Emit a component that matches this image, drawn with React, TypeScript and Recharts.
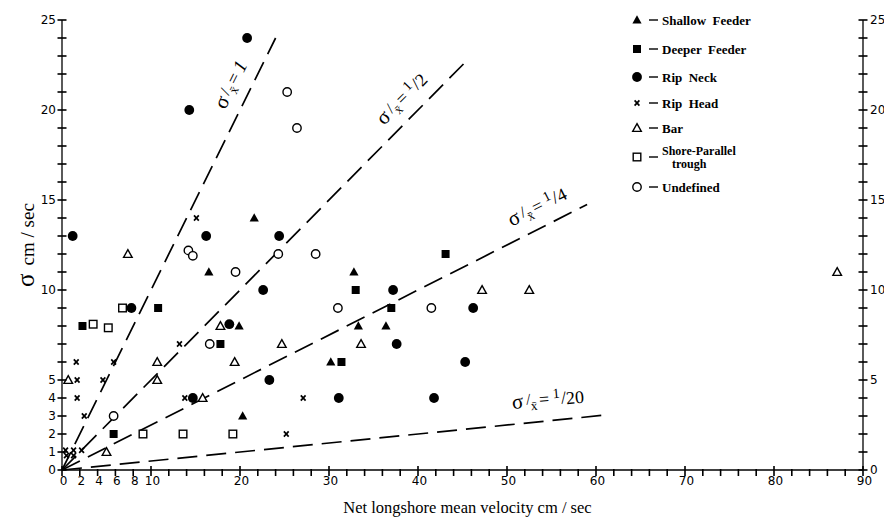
import React from 'react';
import { ScatterChart, Scatter, XAxis, YAxis, ReferenceLine, ReferenceDot, Legend } from 'recharts';

// ---- data (x = net longshore mean velocity, y = sigma), cm/sec ----
const shallowFeeder = [
  { x: 21.6, y: 14 }, { x: 16.5, y: 11 }, { x: 19.9, y: 8 }, { x: 20.3, y: 3 },
  { x: 32.8, y: 11 }, { x: 33.3, y: 8 }, { x: 36.4, y: 8 }, { x: 30.2, y: 6 },
];
const deeperFeeder = [
  { x: 2.3, y: 8 }, { x: 10.8, y: 9 }, { x: 5.8, y: 2 }, { x: 17.8, y: 7 },
  { x: 43.1, y: 12 }, { x: 33.0, y: 10 }, { x: 37.0, y: 9 }, { x: 31.4, y: 6 },
];
const ripNeck = [
  { x: 1.2, y: 13 }, { x: 14.3, y: 20 }, { x: 20.8, y: 24 }, { x: 16.2, y: 13 },
  { x: 24.4, y: 13 }, { x: 7.8, y: 9 }, { x: 22.6, y: 10 }, { x: 18.8, y: 8.1 },
  { x: 14.7, y: 4 }, { x: 23.3, y: 5 }, { x: 37.2, y: 10 }, { x: 37.6, y: 7 },
  { x: 46.2, y: 9 }, { x: 45.3, y: 6 }, { x: 31.1, y: 4 }, { x: 41.8, y: 4 },
];
const ripHead = [
  { x: 15.1, y: 14 }, { x: 1.6, y: 6 }, { x: 5.8, y: 6 }, { x: 1.7, y: 5 },
  { x: 4.6, y: 5 }, { x: 1.7, y: 4 }, { x: 2.5, y: 3 }, { x: 13.2, y: 7 },
  { x: 13.8, y: 4 }, { x: 25.2, y: 2 }, { x: 27.1, y: 4 }, { x: 0.4, y: 1.1 },
  { x: 1.3, y: 1.1 }, { x: 2.2, y: 1.1 }, { x: 0.5, y: 0.8 }, { x: 1.3, y: 0.8 },
];
const bar = [
  { x: 7.4, y: 12 }, { x: 0.7, y: 5 }, { x: 10.7, y: 6 }, { x: 10.7, y: 5 },
  { x: 5.0, y: 1 }, { x: 17.8, y: 8 }, { x: 19.4, y: 6 }, { x: 15.8, y: 4 },
  { x: 24.7, y: 7 }, { x: 33.6, y: 7 }, { x: 47.2, y: 10 }, { x: 52.5, y: 10 },
  { x: 87.1, y: 11 },
];
const shoreTrough = [
  { x: 3.5, y: 8.1 }, { x: 5.2, y: 7.9 }, { x: 6.8, y: 9 }, { x: 9.1, y: 2 },
  { x: 13.6, y: 2 }, { x: 19.2, y: 2 },
];
const undefinedZone = [
  { x: 25.3, y: 21 }, { x: 26.4, y: 19 }, { x: 14.2, y: 12.2 }, { x: 14.7, y: 11.9 },
  { x: 24.3, y: 12 }, { x: 19.5, y: 11 }, { x: 5.8, y: 3 }, { x: 16.6, y: 7 },
  { x: 28.5, y: 12 }, { x: 31.0, y: 9 }, { x: 41.5, y: 9 },
];

// ---- axes ----
const xTicks = [0, 2, 4, 6, 8, 10, 12, 14, 16, 18, 20, 22, 24, 26, 28, 30, 32, 34, 36, 38, 40, 42, 44, 46, 48, 50,
  52, 54, 56, 58, 60, 62, 64, 66, 68, 70, 72, 74, 76, 78, 80, 82, 84, 86, 88, 90];
const xTickLabels = [0, 2, 4, 6, 8, 10, 20, 30, 40, 50, 60, 70, 80, 90];
const yTicks = [0, 1, 2, 3, 4, 5, 6, 7, 8, 9, 10, 11, 12, 13, 14, 15, 16, 17, 18, 19, 20, 21, 22, 23, 24, 25];
const yLeftLabels = [0, 1, 2, 3, 4, 5, 10, 15, 20, 25];
const yRightLabels = [0, 5, 10, 15, 20, 25];

// ---- sigma / mean ratio lines ----
const ratioLines = [
  { ratio: 1, xEnd: 24 },
  { ratio: 0.5, xEnd: 45.5 },
  { ratio: 0.25, xEnd: 59 },
  { ratio: 0.05, xEnd: 61 },
];
const ratioLabels = [
  { den: '', x: 19.0, y: 21.4, angle: -63.7 },
  { den: '2', x: 38.2, y: 20.6, angle: -45.3 },
  { den: '4', x: 53.4, y: 14.6, angle: -26.8 },
  { den: '20', x: 54.6, y: 3.9, angle: -5 },
];

const K = '#000';

const Marker = ({ kind, cx, cy }: any) => {
  switch (kind) {
    case 'triFill':
      return <polygon points={`${cx},${cy - 4.8} ${cx + 4.6},${cy + 3.6} ${cx - 4.6},${cy + 3.6}`} fill={K} />;
    case 'sqFill':
      return <rect x={cx - 4} y={cy - 4} width={8} height={8} fill={K} />;
    case 'circFill':
      return <circle cx={cx} cy={cy} r={4.9} fill={K} />;
    case 'cross':
      return (
        <g stroke={K} strokeWidth={1.7}>
          <line x1={cx - 2.4} y1={cy - 2.6} x2={cx + 2.4} y2={cy + 2.6} />
          <line x1={cx + 2.4} y1={cy - 2.6} x2={cx - 2.4} y2={cy + 2.6} />
        </g>
      );
    case 'triOpen':
      return <polygon points={`${cx},${cy - 4.3} ${cx + 4.3},${cy + 3.4} ${cx - 4.3},${cy + 3.4}`} fill="#fff" stroke={K} strokeWidth={1.4} />;
    case 'sqOpen':
      return <rect x={cx - 3.8} y={cy - 3.8} width={7.6} height={7.6} fill="#fff" stroke={K} strokeWidth={1.4} />;
    case 'circOpen':
      return <circle cx={cx} cy={cy} r={4.2} fill="#fff" stroke={K} strokeWidth={1.4} />;
    default:
      return null;
  }
};

const series = [
  { name: 'Shallow Feeder', data: shallowFeeder, kind: 'triFill' },
  { name: 'Deeper Feeder', data: deeperFeeder, kind: 'sqFill' },
  { name: 'Rip Neck', data: ripNeck, kind: 'circFill' },
  { name: 'Rip Head', data: ripHead, kind: 'cross' },
  { name: 'Bar', data: bar, kind: 'triOpen' },
  { name: 'Shore-Parallel trough', data: shoreTrough, kind: 'sqOpen' },
  { name: 'Undefined', data: undefinedZone, kind: 'circOpen' },
];

const legendRows = [
  { kind: 'triFill', y: 20, lines: ['Shallow  Feeder'] },
  { kind: 'sqFill', y: 49, lines: ['Deeper  Feeder'] },
  { kind: 'circFill', y: 77, lines: ['Rip  Neck'] },
  { kind: 'cross', y: 103, lines: ['Rip  Head'] },
  { kind: 'triOpen', y: 128, lines: ['Bar'] },
  { kind: 'sqOpen', y: 157, lines: ['Shore-Parallel', 'trough'] },
  { kind: 'circOpen', y: 187, lines: ['Undefined'] },
];

const TICK_FONT = 'DejaVu Sans, sans-serif';
const SERIF = 'Liberation Serif, Times New Roman, serif';

const LegendBox = () => (
  <svg width={270} height={210} style={{ display: 'block', overflow: 'visible' }}>
    {legendRows.map((r, i) => (
      <g key={i}>
        <Marker kind={r.kind} cx={37} cy={r.y} />
        <line x1={49} x2={58} y1={r.y} y2={r.y} stroke={K} strokeWidth={1.4} />
        {r.lines.length === 1 ? (
          <text x={62} y={r.y} dy="0.35em" fontFamily={SERIF} fontWeight="bold" fontSize={13} fill={K} style={{ whiteSpace: 'pre' }}>{r.lines[0]}</text>
        ) : (
          <g>
            <text x={62} y={r.y - 6} dy="0.35em" fontFamily={SERIF} fontWeight="bold" fontSize={12} fill={K}>{r.lines[0]}</text>
            <text x={72} y={r.y + 7} dy="0.35em" fontFamily={SERIF} fontWeight="bold" fontSize={12} fill={K}>{r.lines[1]}</text>
          </g>
        )}
      </g>
    ))}
  </svg>
);

const RatioLabel = ({ cx, cy, den, angle }: any) => (
  <text transform={`translate(${cx},${cy}) rotate(${angle})`} textAnchor="middle" fontFamily={SERIF} fill={K}>
    <tspan fontSize={21} dy={6}>σ</tspan>
    <tspan fontSize={16} dx={3} dy={-3}>/</tspan>
    <tspan fontSize={13} dy={6}>x̄</tspan>
    <tspan fontSize={18} dx={2} dy={-4}>=</tspan>
    {den ? (
      <>
        <tspan fontSize={14} dx={4} dy={-6}>1</tspan>
        <tspan fontSize={18} dx={1} dy={6}>/</tspan>
        <tspan fontSize={18} dy={1}>{den}</tspan>
      </>
    ) : (
      <tspan fontSize={19} dx={4} dy={1} fontStyle="italic">1</tspan>
    )}
  </text>
);

// tick geometry: custom tick draws a crossing tick mark + label
const Y_TS = 4, Y_TM = 3, X_TS = 5, X_TM = 3;

const LeftTick = (p: any) => {
  const ax = p.x + Y_TS + Y_TM;
  const v = p.payload.value;
  return (
    <g>
      <rect x={ax - 4.5} y={p.y - 0.8} width={9} height={1.6} fill={K} />
      {yLeftLabels.includes(v) && (
        <text x={ax - 6} y={p.y} dy="0.36em" textAnchor="end" fontFamily={TICK_FONT} fontSize={12} fill={K}>{v}</text>
      )}
    </g>
  );
};

const RightTick = (p: any) => {
  const ax = p.x - Y_TS - Y_TM;
  const v = p.payload.value;
  return (
    <g>
      <rect x={ax - 4.5} y={p.y - 0.8} width={9} height={1.6} fill={K} />
      {yRightLabels.includes(v) && (
        <text x={ax + 7} y={p.y} dy="0.36em" textAnchor="start" fontFamily={TICK_FONT} fontSize={12} fill={K}>{v}</text>
      )}
    </g>
  );
};

const BottomTick = (p: any) => {
  const ay = p.y - X_TS - X_TM;
  const v = p.payload.value;
  const major = v % 10 === 0;
  return (
    <g>
      <rect x={p.x - 0.8} y={ay - (major ? 4 : 1)} width={1.6} height={major ? 10 : 7} fill={K} />
      {xTickLabels.includes(v) && (
        <text x={p.x + 1.5} y={ay + 15} textAnchor="middle" fontFamily={TICK_FONT} fontSize={12} fill={K}>{v}</text>
      )}
    </g>
  );
};

const XTitle = (p: any) => {
  const vb = p.viewBox || { x: 62, y: 470, width: 801 };
  return (
    <text x={vb.x + vb.width / 2 + 5} y={vb.y + 43} textAnchor="middle" fontFamily={SERIF} fontSize={16.5} fill={K}>
      Net longshore mean velocity cm / sec
    </text>
  );
};

const YTitle = (p: any) => {
  const vb = p.viewBox || { x: 0, y: 20, width: 62, height: 450 };
  const cy = vb.y + vb.height / 2;
  return (
    <text transform={`translate(27,${cy}) rotate(-90)`} y={7} textAnchor="middle" fontFamily={SERIF} fill={K}>
      <tspan fontSize={25}>σ</tspan>
      <tspan fontSize={19} dx={8}>cm / sec</tspan>
    </text>
  );
};

export default function App() {
  return (
    <div style={{ position: 'absolute', left: 0, top: 0, width: 884, height: 518, background: '#fff' }}>
      <ScatterChart width={884} height={518} margin={{ top: 20, right: 0, bottom: 0, left: 0 }}>
        <XAxis
          type="number" dataKey="x" domain={[0, 90]} ticks={xTicks} interval={0}
          height={48} tickSize={X_TS} tickMargin={X_TM} tickLine={false}
          axisLine={{ stroke: K, strokeWidth: 1.3 }} tick={BottomTick}
          allowDataOverflow label={XTitle}
        />
        <YAxis
          yAxisId="left" type="number" dataKey="y" domain={[0, 25]} ticks={yTicks} interval={0}
          width={62} tickSize={Y_TS} tickMargin={Y_TM} tickLine={false}
          axisLine={{ stroke: K, strokeWidth: 1.3 }} tick={LeftTick}
          allowDataOverflow label={YTitle}
        />
        <YAxis
          yAxisId="right" orientation="right" type="number" domain={[0, 25]} ticks={yTicks} interval={0}
          width={21} tickSize={Y_TS} tickMargin={Y_TM} tickLine={false}
          axisLine={{ stroke: K, strokeWidth: 1.3 }} tick={RightTick}
          allowDataOverflow
        />
        {ratioLines.map((l, i) => (
          <ReferenceLine
            key={'rl' + i} yAxisId="left"
            segment={[{ x: 0, y: 0 }, { x: l.xEnd, y: l.xEnd * l.ratio }]}
            stroke={K} strokeWidth={1.7} strokeDasharray="20 9" ifOverflow="visible"
          />
        ))}
        {series.map((s) => (
          <Scatter
            key={s.name} name={s.name} yAxisId="left" data={s.data} isAnimationActive={false}
            shape={(p: any) => <Marker kind={s.kind} cx={p.cx} cy={p.cy} />}
          />
        ))}
        {ratioLabels.map((l, i) => (
          <ReferenceDot
            key={'lab' + i} yAxisId="left" x={l.x} y={l.y} r={0} ifOverflow="visible"
            shape={(p: any) => <RatioLabel cx={p.cx} cy={p.cy} den={l.den} angle={l.angle} />}
          />
        ))}
        <Legend
          layout="vertical" align="center" verticalAlign="middle"
          wrapperStyle={{ position: 'absolute', left: 600, top: 0, width: 270, height: 210 }}
          content={() => <LegendBox />}
        />
      </ScatterChart>
    </div>
  );
}
